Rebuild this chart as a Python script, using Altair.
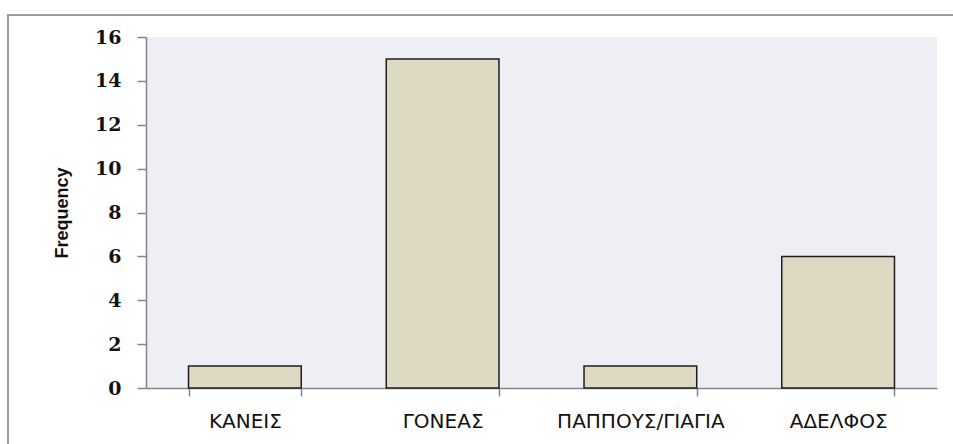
import altair as alt
import pandas as pd

# Frequency of each category
categories = ["ΚΑΝΕΙΣ", "ΓΟΝΕΑΣ", "ΠΑΠΠΟΥΣ/ΓΙΑΓΙΑ", "ΑΔΕΛΦΟΣ"]
frequencies = [1, 15, 1, 6]
y_ticks = [0, 2, 4, 6, 8, 10, 12, 14, 16]

df = pd.DataFrame({"category": categories, "frequency": frequencies})

W, H = 791, 351
AXIS_GREY = "#868686"

bars = alt.Chart(df).mark_bar(
    fill="#ddd9c3", stroke="#1f1f1f", strokeWidth=1.5
).encode(
    x=alt.X(
        "category:N",
        sort=categories,
        scale=alt.Scale(paddingInner=0.43, paddingOuter=0.215),
        axis=alt.Axis(
            title=None,
            labelAngle=0,
            labelFont="DejaVu Sans",
            labelFontSize=20,
            labelColor="#111111",
            labelPadding=15,
            tickBand="extent",
            tickSize=8,
            tickColor=AXIS_GREY,
            domainColor=AXIS_GREY,
            domainWidth=1.5,
            tickWidth=1.5,
        ),
    ),
    y=alt.Y(
        "frequency:Q",
        scale=alt.Scale(domain=[0, 16], nice=False),
        axis=alt.Axis(
            title="Frequency",
            values=y_ticks,
            grid=False,
            labelFont="DejaVu Serif",
            labelFontWeight="bold",
            labelFontSize=19,
            labelColor="#111111",
            labelPadding=16,
            tickSize=9,
            tickColor=AXIS_GREY,
            domainColor=AXIS_GREY,
            domainWidth=1.5,
            tickWidth=1.5,
            titleFont="Liberation Sans",
            titleFontWeight="bold",
            titleFontSize=18,
            titleColor="#111111",
            titleAngle=-90,
            titleX=-84,
            titleY=H / 2,
            titleAlign="center",
            titleBaseline="middle",
        ),
    ),
)

# Outer frame around the whole chart
frame = alt.Chart(df).mark_rect(
    fill="white", fillOpacity=0, stroke="#9a9a9a", strokeWidth=1.5
).encode(
    x=alt.value(-138),
    x2=alt.value(W + 60),
    y=alt.value(-22),
    y2=alt.value(H + 120),
)

chart = alt.layer(frame, bars).properties(
    width=W,
    height=H,
    padding={"left": 146, "top": 37, "right": 16, "bottom": 56},
    autosize=alt.AutoSizeParams(type="none"),
    background="white",
).configure_view(
    fill="#efeef4", stroke=None
)

chart.save("out.html", embed_options={"renderer": "svg", "actions": False})
